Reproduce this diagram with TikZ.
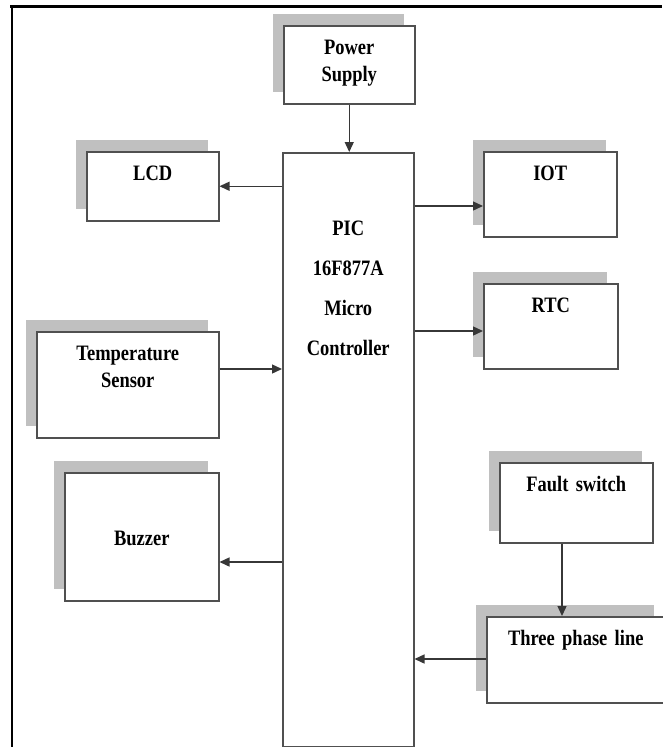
\documentclass[tikz,border=0pt]{standalone}
\usepackage{fontspec}
\setmainfont{Liberation Serif}[FakeStretch=0.84]
\usepackage{tikz}
\usetikzlibrary{arrows.meta, shadows}
\usepackage{xcolor}
\definecolor{boxgray}{RGB}{80,80,80}
\definecolor{shadegray}{RGB}{192,192,192}
\definecolor{arrgray}{RGB}{55,55,55}
\tikzset{
  blkM/.style={rectangle, draw=boxgray, fill=white, line width=1.5pt,
    anchor=north west, inner sep=0pt, align=center, text height=29pt,
    font=\fontsize{22}{27}\selectfont\bfseries},
  blk/.style={blkM, drop shadow={shadow xshift=-11pt, shadow yshift=12pt,
    fill=shadegray, opacity=1}},
  arr/.style={-{Triangle[length=10pt, width=9pt]}, line width=1.4pt, draw=arrgray},
}

\begin{document}
\begin{tikzpicture}[x=1pt, y=-1pt]
  \useasboundingbox (0,0) rectangle (662,747);

  % -- page frame (top and left only) --
  \draw[line width=3pt] (10,6.5) -- (662,6.5);
  \draw[line width=2pt] (11.5,5) -- (11.5,747);

  % -- controller --
  \node[blkM, text width=131pt, text height=83pt, text depth=511pt]
       (micro) at (282,152)
       {PIC\\[13pt]16F877A\\[13pt]Micro\\[13pt]Controller};

  % -- blocks round the controller --
  \node[blk, text width=131pt, text depth=49pt] (power) at (283,25)
       {Power\\Supply};
  \node[blk, text width=132pt, text depth=40pt] (lcd) at (86,151) {LCD};
  \node[blk, text width=133pt, text depth=56pt] (iot) at (483,151) {IOT};
  \node[blk, text width=134pt, text depth=56pt] (rtc) at (483,283) {RTC};
  \node[blk, text width=182pt, text depth=77pt] (temp) at (36,331)
       {Temperature\\Sensor};
  \node[blk, text width=154pt, text height=73pt, text depth=55pt]
       (buzzer) at (64,472) {Buzzer};
  \node[blk, text width=153pt, text depth=51pt] (fault) at (499,462)
       {Fault switch};
  \node[blk, text width=178pt, text depth=57pt] (three) at (486,616)
       {Three phase line};

  % Connecting arrows
  \draw[arr] (power.south) -- (power.south |- micro.north);
  \draw[arr] (micro.west |- lcd.east) -- (lcd.east);
  \draw[arr] (micro.east |- 0,206) -- (iot.west |- 0,206);
  \draw[arr] (micro.east |- 0,331) -- (rtc.west |- 0,331);
  \draw[arr] (temp.east |- 0,369) -- (micro.west |- 0,369);
  \draw[arr] (micro.west |- 0,562) -- (buzzer.east |- 0,562);
  \draw[arr] (fault.south -| 562,0) -- (three.north -| 562,0);
  \draw[arr] (three.west |- 0,659) -- (micro.east |- 0,659);
\end{tikzpicture}
\end{document}
